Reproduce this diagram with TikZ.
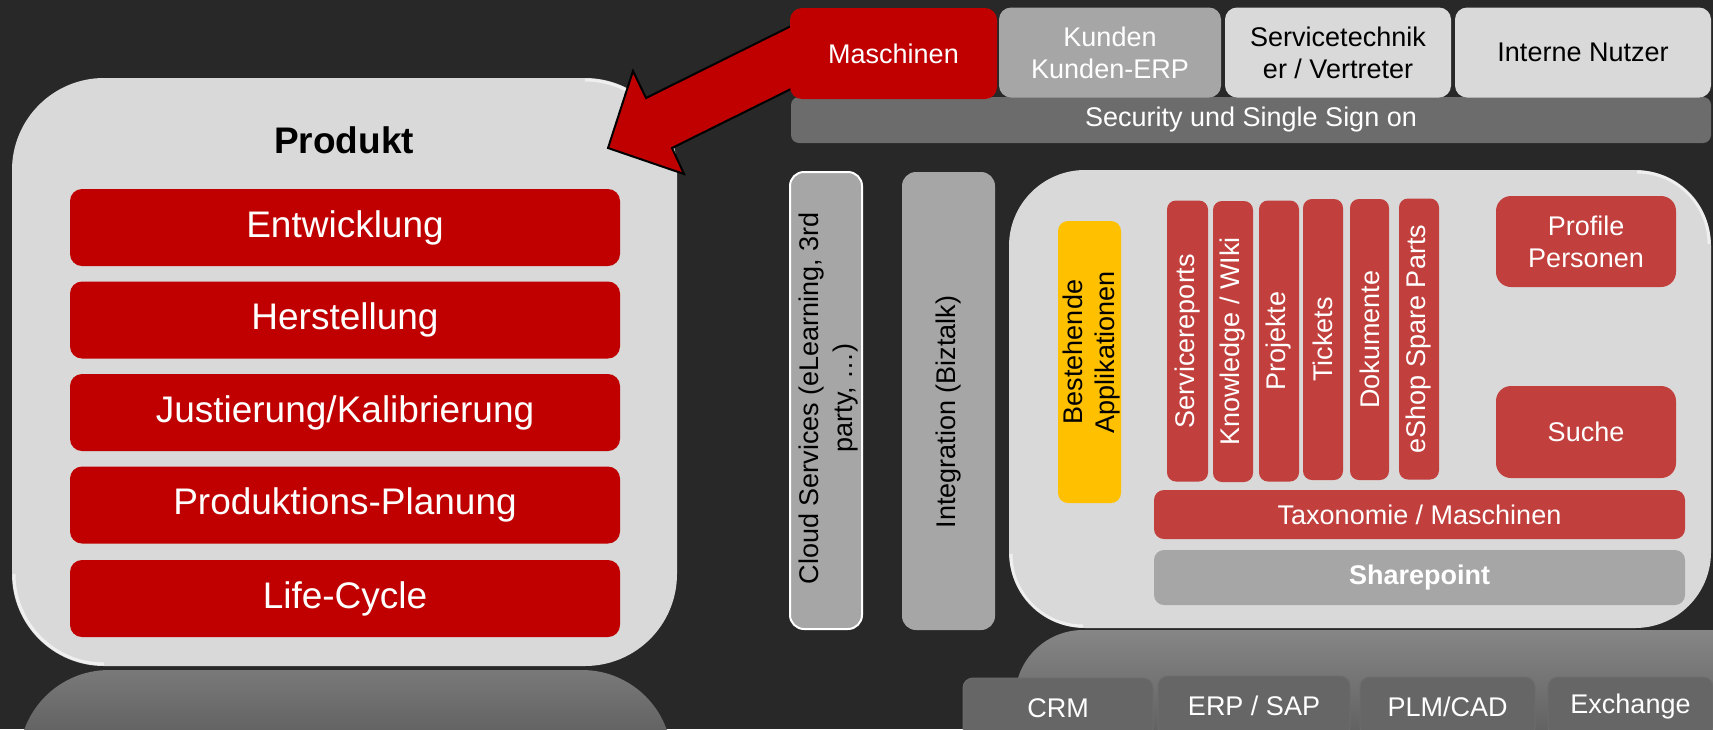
\documentclass[tikz,border=0pt]{standalone}
\usepackage{fontspec}
\setmainfont{Liberation Sans}
\definecolor{bgc}{HTML}{282828}
\definecolor{dred}{HTML}{C00000}
\definecolor{lred}{HTML}{C13F3C}
\definecolor{lgray}{HTML}{D9D9D9}
\definecolor{mgray}{HTML}{A6A6A6}
\definecolor{sgray}{HTML}{6C6C6C}
\definecolor{bgray}{HTML}{666666}
\definecolor{ygold}{HTML}{FFC000}
\tikzset{
  box/.style={rounded corners=12pt, inner sep=0pt, outer sep=0pt, align=center,
    text=white, font=\fontsize{27}{32}\selectfont},
  bigbox/.style={fill=lgray, inner sep=0pt, outer sep=0pt},
  redrow/.style={box, fill=dred, minimum width=550pt, minimum height=77pt,
    font=\fontsize{37}{44}\selectfont},
  topbtn/.style={box, minimum height=90pt},
  col/.style={box, fill=lred, rounded corners=9pt, minimum height=281pt},
  tall/.style={box, fill=mgray, text=black, rounded corners=14pt},
  botbtn/.style={box, fill=bgray, draw=gray!85!black, line width=1pt, rounded corners=10pt, minimum height=60pt},
  rim/.style={draw=white, opacity=0.6, line width=3pt},
  vtext/.style={rotate=90, text=white, font=\fontsize{27}{32}\selectfont, inner sep=0pt},
}
\begin{document}
\begin{tikzpicture}[x=1pt,y=-1pt]
\useasboundingbox (0,0) rectangle (1713,729);
\clip (0,0) rectangle (1713,729);
\fill[bgc] (0,0) rectangle (1713,729);

% reflections
\shade[top color=gray!105!white, bottom color=black!85, rounded corners=90pt]
  (19,900) -- (19,670) -- (672,670) -- (672,900) -- cycle;
\shade[top color=gray!95!white, bottom color=black!85, rounded corners=68pt]
  (1015,900) -- (1015,630) -- (1780,630) -- (1780,900) -- cycle;

% Produkt panel
\node[bigbox, rounded corners=92pt, minimum width=665pt, minimum height=588pt] (produkt) at (344.5,372) {};
\draw[rim, rounded corners=90pt] (587,80) -- (675,80) -- (675,170);
\draw[rim, rounded corners=90pt] (14,576) -- (14,664) -- (104,664);
\node[font=\bfseries\fontsize{37}{44}\selectfont, text=black, inner sep=0pt] (ptitle) at (344,140) {Produkt};

\node[redrow] (entw) at (345,227.5) {Entwicklung};
\node[redrow] (herst) at (345,320) {Herstellung};
\node[redrow] (just) at (345,412.5) {Justierung/Kalibrierung};
\node[redrow] (plan) at (345,505) {Produktions-Planung};
\node[redrow] (life) at (345,598.5) {Life-Cycle};

% arrow
\filldraw[fill=dred, draw=black, line width=2pt, line join=miter]
  (800,21.6) -- (646,98) -- (633,71) -- (608,148) -- (684,174) -- (672,148) -- (800,84.5) -- cycle;

% security bar and top buttons
\node[box, fill=sgray, rounded corners=8pt, minimum width=920pt, minimum height=46pt] (sec) at (1251,120) {Security und Single Sign on};
\node[topbtn, fill=dred, minimum width=207pt, minimum height=91pt] (masch) at (893.5,53.5) {Maschinen};
\node[topbtn, fill=mgray, minimum width=222pt] (kunden) at (1110,52.5) {Kunden\\Kunden-ERP};
\node[topbtn, fill=lgray, text=black, minimum width=226pt] (service) at (1338,52.5) {Servicetechnik\\er / Vertreter};
\node[topbtn, fill=lgray, text=black, minimum width=256pt] (intern) at (1583,52.5) {Interne Nutzer};

% tall gray boxes
\node[tall, draw=white, line width=2pt, minimum width=72pt, minimum height=457pt] (cloud) at (826,400.5) {};
\node[vtext, align=center, text=black, font=\fontsize{27}{34}\selectfont] (cloudt) at (829,398) {Cloud Services (eLearning, 3rd\\party, \dots)};
\node[tall, minimum width=93pt, minimum height=458pt] (integ) at (948.5,401) {};
\node[vtext, text=black] (integt) at (948.5,412) {Integration (Biztalk)};

% right panel
\node[bigbox, rounded corners=76pt, minimum width=702pt, minimum height=458pt] (panel) at (1360,399) {};
\draw[rim, rounded corners=72pt] (1637,172) -- (1709,172) -- (1709,244);
\draw[rim, rounded corners=72pt] (1011,554) -- (1011,626) -- (1083,626);

\node[box, fill=ygold, rounded corners=10pt, minimum width=63pt, minimum height=282pt] (best) at (1089.5,362) {};
\node[vtext, align=center, text=black] (bestt) at (1092,352) {Bestehende\\Applikationen};

\node[col, minimum width=41pt] (c1) at (1187.5,341) {};
\node[col, minimum width=40pt] (c2) at (1233,341.5) {};
\node[col, minimum width=40pt] (c3) at (1279,341) {};
\node[col, minimum width=40pt] (c4) at (1323,339.5) {};
\node[col, minimum width=39pt] (c5) at (1369.5,339.5) {};
\node[col, minimum width=40pt] (c6) at (1419,339) {};
\node[vtext] (c1t) at (c1) {Servicereports};
\node[vtext] (c2t) at (c2) {Knowledge / WIki};
\node[vtext] (c3t) at (c3) {Projekte};
\node[vtext] (c4t) at (c4) {Tickets};
\node[vtext] (c5t) at (c5) {Dokumente};
\node[vtext] (c6t) at (c6) {eShop Spare Parts};

\node[box, fill=lred, rounded corners=15pt, minimum width=180pt, minimum height=91pt] (profile) at (1586,241.5) {Profile\\Personen};
\node[box, fill=lred, rounded corners=15pt, minimum width=180pt, minimum height=92pt] (suche) at (1586,432) {Suche};
\node[box, fill=lred, rounded corners=10pt, minimum width=531pt, minimum height=49pt] (tax) at (1419.5,514.5) {Taxonomie / Maschinen};
\node[box, fill=mgray, rounded corners=10pt, minimum width=531pt, minimum height=55pt, font=\bfseries\fontsize{27}{32}\selectfont] (share) at (1419.5,577.5) {Sharepoint};

% bottom buttons
\node[botbtn, minimum width=190pt] (crm) at (1058,708) {CRM};
\node[botbtn, minimum width=192pt] (erp) at (1254,706) {ERP / SAP};
\node[botbtn, minimum width=175pt] (plm) at (1447.5,707) {PLM/CAD};
\node[botbtn, minimum width=165pt] (exch) at (1630.5,707) {Exchange};
\end{tikzpicture}
\end{document}
